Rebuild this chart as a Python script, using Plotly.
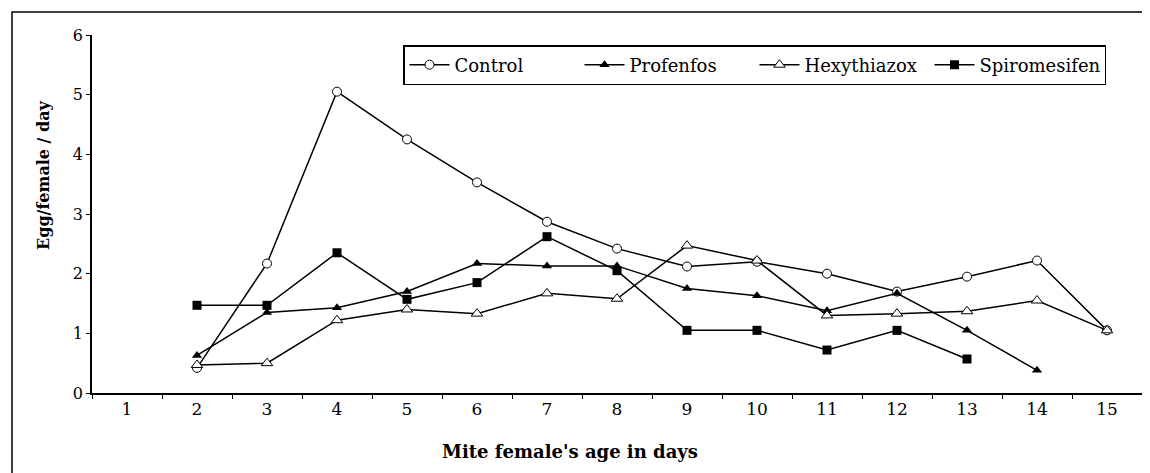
import plotly.graph_objects as go

days = [str(d) for d in range(1, 16)]

control_x = ["2", "3", "4", "5", "6", "7", "8", "9", "10", "11", "12", "13", "14", "15"]
control_y = [0.42, 2.17, 5.05, 4.25, 3.53, 2.87, 2.42, 2.12, 2.2, 2.0, 1.7, 1.95, 2.22, 1.05]

profenfos_x = ["2", "3", "4", "5", "6", "7", "8", "9", "10", "11", "12", "13", "14"]
profenfos_y = [0.63, 1.35, 1.43, 1.7, 2.17, 2.13, 2.13, 1.75, 1.63, 1.38, 1.67, 1.05, 0.38]

hexy_x = ["2", "3", "4", "5", "6", "7", "8", "9", "10", "11", "12", "13", "14", "15"]
hexy_y = [0.47, 0.5, 1.22, 1.4, 1.33, 1.67, 1.58, 2.47, 2.22, 1.3, 1.33, 1.37, 1.55, 1.05]

spiro_x = ["2", "3", "4", "5", "6", "7", "8", "9", "10", "11", "12", "13"]
spiro_y = [1.47, 1.47, 2.35, 1.57, 1.85, 2.62, 2.05, 1.05, 1.05, 0.72, 1.05, 0.57]

yticks = [0, 1, 2, 3, 4, 5, 6]

x_title = "Mite female's age in days"
y_title = "Egg/female / day"

SERIF = "DejaVu Serif, Liberation Serif, serif"
line = dict(color="black", width=1.5)

# page body has an 8px offset; plot area on screen: x 92..1142, y 35..393
OFF = 8
PX0, PX1, PY0, PY1 = 92, 1142, 35, 393
PW, PH = PX1 - PX0, PY1 - PY0

fig = go.Figure()
fig.add_trace(go.Scatter(x=control_x, y=control_y, name="Control", mode="lines+markers",
                         line=line, marker=dict(symbol="circle", size=9, color="white",
                                                line=dict(color="black", width=1))))
fig.add_trace(go.Scatter(x=profenfos_x, y=profenfos_y, name="Profenfos", mode="lines+markers",
                         line=line, marker=dict(symbol="triangle-up", size=9, color="black")))
fig.add_trace(go.Scatter(x=hexy_x, y=hexy_y, name="Hexythiazox", mode="lines+markers",
                         line=line, marker=dict(symbol="triangle-up", size=10, color="white",
                                                line=dict(color="black", width=1))))
fig.add_trace(go.Scatter(x=spiro_x, y=spiro_y, name="Spiromesifen", mode="lines+markers",
                         line=line, marker=dict(symbol="square", size=9, color="black")))

fig.update_layout(
    width=1150, height=473,
    margin=dict(l=PX0 - OFF, r=1150 + OFF - PX1, t=PY0 - OFF, b=473 + OFF - PY1),
    paper_bgcolor="white", plot_bgcolor="white",
    font=dict(family=SERIF, size=16, color="black"),
    showlegend=True,
    legend=dict(orientation="h", x=(403 - PX0) / PW, y=(PY1 - 45) / PH,
                xanchor="left", yanchor="top",
                bordercolor="black", borderwidth=1.5, bgcolor="white",
                font=dict(family=SERIF, size=18), itemwidth=40,
                entrywidth=120, tracegroupgap=0),
    xaxis=dict(type="category", categoryorder="array", categoryarray=days,
               tickvals=days, ticktext=days, range=[-0.5, 14.5], automargin=False,
               tickson="boundaries", ticks="outside", ticklen=4, tickcolor="black",
               showline=True, linecolor="black", linewidth=1.5, showgrid=False,
               zeroline=False, tickfont=dict(family=SERIF, size=17)),
    yaxis=dict(range=[0, 6], tickvals=yticks, ticks="outside", ticklen=4, tickcolor="black",
               showline=True, linecolor="black", linewidth=1.5, showgrid=False,
               zeroline=False, tickfont=dict(family=SERIF, size=16), automargin=False),
    annotations=[
        dict(text="<b>" + x_title + "</b>", xref="paper", yref="paper",
             x=(570 - PX0) / PW, y=(PY1 - 452) / PH, xanchor="center", yanchor="middle",
             showarrow=False, font=dict(family=SERIF, size=18)),
        dict(text="<b>" + y_title + "</b>", xref="paper", yref="paper", textangle=-90,
             x=(43 - PX0) / PW, y=(PY1 - 175) / PH, xanchor="center", yanchor="middle",
             showarrow=False, font=dict(family=SERIF, size=16)),
    ],
    shapes=[dict(type="rect", xref="paper", yref="paper",
                 x0=(12 - PX0) / PW, x1=(1160 - PX0) / PW,
                 y0=(PY1 - 490) / PH, y1=(PY1 - 12) / PH,
                 line=dict(color="black", width=1.5), layer="below")],
)

fig.write_html("out.html")
